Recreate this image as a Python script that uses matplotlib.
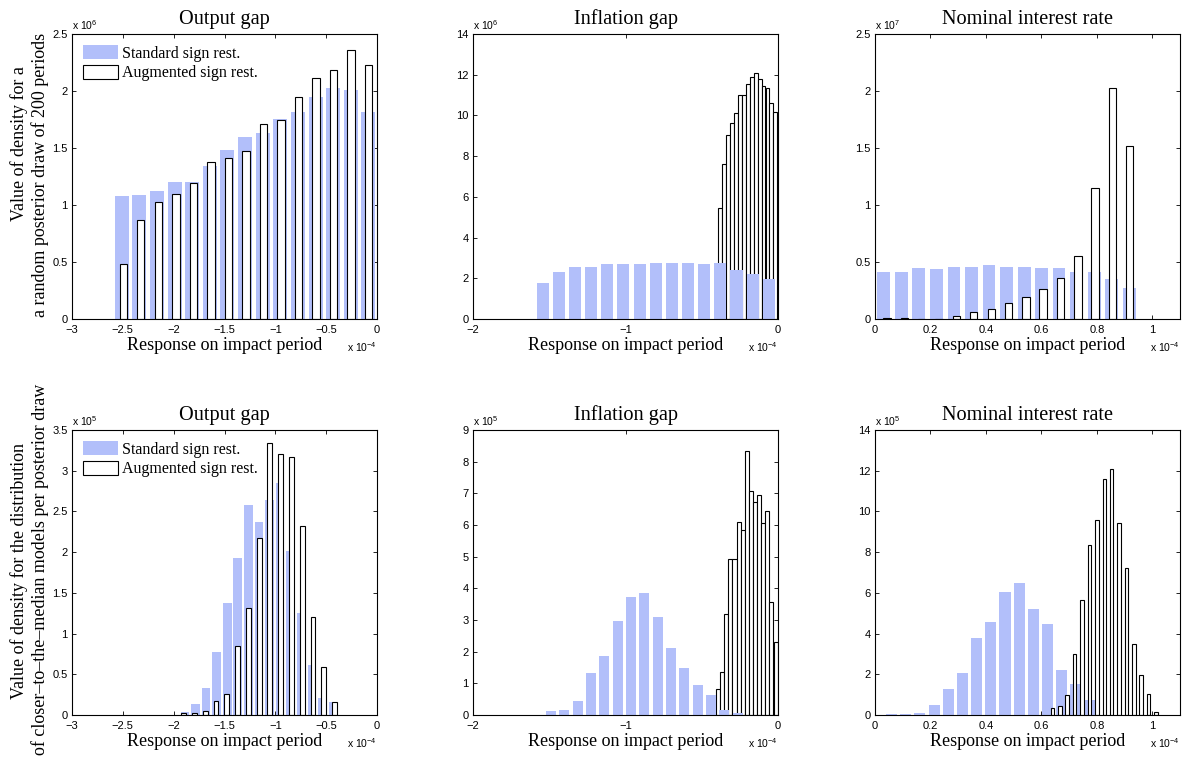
import matplotlib
matplotlib.use('Agg')
import matplotlib.pyplot as plt
from matplotlib.ticker import FuncFormatter

plt.rcParams['font.family'] = 'Liberation Serif'
plt.rcParams['mathtext.fontset'] = 'custom'
plt.rcParams['mathtext.rm'] = 'Liberation Sans'
plt.rcParams['mathtext.it'] = 'Liberation Sans:italic'

# x values in units of 1e-4, heights in units of the axis exponent
# top row: density for a random posterior draw of 200 periods
out1_std_x = [-2.511, -2.338, -2.164, -1.991, -1.818, -1.644, -1.471, -1.298, -1.124, -0.951, -0.778, -0.604, -0.431, -0.258, -0.085]
out1_std_y = [1.083, 1.085, 1.127, 1.200, 1.200, 1.338, 1.481, 1.595, 1.633, 1.756, 1.815, 1.947, 2.026, 2.011, 1.815]
out1_aug_x = [-2.495, -2.323, -2.150, -1.978, -1.806, -1.634, -1.461, -1.289, -1.117, -0.944, -0.772, -0.600, -0.428, -0.255, -0.083]
out1_aug_y = [0.480, 0.872, 1.025, 1.098, 1.191, 1.379, 1.414, 1.470, 1.712, 1.745, 1.947, 2.114, 2.187, 2.360, 2.228]

inf1_std_x = [-1.544, -1.438, -1.332, -1.226, -1.120, -1.014, -0.908, -0.802, -0.696, -0.590, -0.484, -0.378, -0.272, -0.166, -0.060]
inf1_std_y = [1.77, 2.33, 2.56, 2.55, 2.70, 2.72, 2.69, 2.75, 2.73, 2.73, 2.72, 2.76, 2.43, 2.23, 1.97]
inf1_aug_x = [-0.379, -0.353, -0.327, -0.302, -0.276, -0.250, -0.224, -0.198, -0.173, -0.147, -0.121, -0.095, -0.069, -0.044, -0.018]
inf1_aug_y = [5.45, 7.61, 9.04, 9.63, 10.12, 11.0, 11.0, 11.54, 11.89, 12.08, 11.79, 11.44, 11.35, 10.6, 10.17]

int1_std_x = [0.031, 0.095, 0.158, 0.221, 0.285, 0.348, 0.411, 0.474, 0.538, 0.601, 0.664, 0.728, 0.791, 0.854, 0.918]
int1_std_y = [0.416, 0.413, 0.448, 0.439, 0.460, 0.460, 0.474, 0.457, 0.457, 0.445, 0.451, 0.416, 0.410, 0.348, 0.272]
int1_aug_x = [0.043, 0.106, 0.168, 0.231, 0.293, 0.356, 0.419, 0.481, 0.544, 0.606, 0.669, 0.732, 0.794, 0.857, 0.919]
int1_aug_y = [0.010, 0.005, 0.002, 0.004, 0.026, 0.059, 0.088, 0.138, 0.196, 0.260, 0.360, 0.556, 1.153, 2.026, 1.516]

# bottom row: closer-to-the-median models per posterior draw
out2_std_x = [-1.889, -1.785, -1.681, -1.577, -1.473, -1.369, -1.265, -1.161, -1.057, -0.953, -0.849, -0.745, -0.641, -0.537, -0.433]
out2_std_y = [0.037, 0.136, 0.329, 0.773, 1.370, 1.925, 2.579, 2.365, 2.641, 2.847, 2.020, 1.250, 0.613, 0.210, 0.156]
out2_aug_x = [-1.902, -1.796, -1.690, -1.584, -1.478, -1.372, -1.266, -1.160, -1.054, -0.948, -0.842, -0.736, -0.630, -0.524, -0.418]
out2_aug_y = [0.020, 0.020, 0.053, 0.169, 0.263, 0.847, 1.316, 2.172, 3.340, 3.209, 3.172, 2.320, 1.201, 0.584, 0.165]

inf2_std_x = [-1.489, -1.402, -1.314, -1.227, -1.139, -1.052, -0.964, -0.877, -0.789, -0.702, -0.614, -0.527, -0.439, -0.352, -0.264]
inf2_std_y = [0.137, 0.148, 0.444, 1.332, 1.860, 2.980, 3.720, 3.860, 3.087, 2.114, 1.469, 0.940, 0.624, 0.159, 0.074]
inf2_aug_x = [-0.393, -0.366, -0.339, -0.312, -0.285, -0.258, -0.231, -0.204, -0.177, -0.150, -0.124, -0.097, -0.070, -0.043, -0.016]
inf2_aug_y = [0.82, 1.36, 3.20, 4.94, 4.94, 6.11, 5.83, 8.34, 7.07, 6.72, 6.94, 6.05, 6.43, 3.57, 2.30]

int2_std_x = [0.059, 0.110, 0.161, 0.213, 0.264, 0.315, 0.366, 0.417, 0.469, 0.520, 0.571, 0.622, 0.673, 0.725, 0.776]
int2_std_y = [0.05, 0.05, 0.08, 0.51, 1.30, 2.07, 3.80, 4.57, 6.05, 6.48, 5.20, 4.46, 2.22, 1.51, 0.72]
int2_aug_x = [0.640, 0.667, 0.693, 0.720, 0.747, 0.773, 0.800, 0.827, 0.854, 0.880, 0.907, 0.934, 0.960, 0.987, 1.014]
int2_aug_y = [0.36, 0.44, 0.97, 3.02, 5.65, 8.36, 9.56, 11.60, 12.06, 9.43, 7.23, 3.47, 1.96, 1.05, 0.15]

titles = ['Output gap', 'Inflation gap', 'Nominal interest rate']
blue = '#b2bffa'

fig = plt.figure(figsize=(11.85, 7.61), dpi=100)

lefts = [72, 473, 875]
tops = [34, 430]
W, H = 305, 285


def fmt(v, pos):
    return ('%g' % round(v, 6)).replace('-', '\u2212')


def panel(col, row, std_x, std_y, std_w, aug_x, aug_y, aug_w,
          xlim, xticks, ylim, yticks, yexp, blue_on_top=False, legend=False):
    ax = fig.add_axes([lefts[col] / 1185, 1 - (tops[row] + H) / 761, W / 1185, H / 761])
    zs, za = (3, 2) if blue_on_top else (2, 3)
    ax.bar(std_x, std_y, width=std_w, color=blue, edgecolor='none', zorder=zs,
           label='Standard sign rest.')
    ax.bar(aug_x, aug_y, width=aug_w, facecolor='white', edgecolor='black',
           linewidth=0.8, zorder=za, label='Augmented sign rest.')
    ax.set_xlim(xlim)
    ax.set_ylim(ylim)
    ax.set_xticks(xticks)
    ax.set_yticks(yticks)
    ax.xaxis.set_major_formatter(FuncFormatter(fmt))
    ax.yaxis.set_major_formatter(FuncFormatter(fmt))
    ax.tick_params(direction='in', top=True, right=True, length=3, width=0.6,
                   labelsize=8, labelfontfamily='Liberation Sans')
    ax.tick_params(axis='x', pad=4.5)
    ax.tick_params(axis='y', pad=3)
    for s in ax.spines.values():
        s.set_linewidth(0.8)
        s.set_zorder(5)
    ax.set_title(titles[col], fontsize=14.6, pad=7.5)
    ax.set_xlabel('Response on impact period', fontsize=13, labelpad=1.5)
    ax.annotate(r'x 10$^{%d}$' % yexp, xy=(0, 1), xycoords='axes fraction',
                xytext=(0, 3), textcoords='offset points', ha='left', va='baseline',
                fontsize=7.5, family='Liberation Sans')
    ax.annotate(r'x 10$^{-4}$', xy=(1, 0), xycoords='axes fraction',
                xytext=(0, -24), textcoords='offset points', ha='right', va='baseline',
                fontsize=7.5, family='Liberation Sans')
    if legend:
        ax.legend(loc='upper left', frameon=False, fontsize=11.5, handlelength=2.2,
                  handleheight=0.95, handletextpad=0.2, labelspacing=0.2,
                  borderaxespad=0.4, borderpad=0.3)
    return ax


panel(0, 0, out1_std_x, out1_std_y, 0.138, out1_aug_x, out1_aug_y, 0.072,
      (-3, 0), [-3, -2.5, -2, -1.5, -1, -0.5, 0], (0, 2.5), [0, 0.5, 1, 1.5, 2, 2.5], 6,
      legend=True)
panel(1, 0, inf1_std_x, inf1_std_y, 0.079, inf1_aug_x, inf1_aug_y, 0.0258,
      (-2, 0), [-2, -1, 0], (0, 14), [0, 2, 4, 6, 8, 10, 12, 14], 6, blue_on_top=True)
panel(2, 0, int1_std_x, int1_std_y, 0.046, int1_aug_x, int1_aug_y, 0.0265,
      (0, 1.1), [0, 0.2, 0.4, 0.6, 0.8, 1], (0, 2.5), [0, 0.5, 1, 1.5, 2, 2.5], 7)
panel(0, 1, out2_std_x, out2_std_y, 0.085, out2_aug_x, out2_aug_y, 0.048,
      (-3, 0), [-3, -2.5, -2, -1.5, -1, -0.5, 0], (0, 3.5), [0, 0.5, 1, 1.5, 2, 2.5, 3, 3.5], 5,
      legend=True)
panel(1, 1, inf2_std_x, inf2_std_y, 0.066, inf2_aug_x, inf2_aug_y, 0.0269,
      (-2, 0), [-2, -1, 0], (0, 9), list(range(10)), 5, blue_on_top=True)
panel(2, 1, int2_std_x, int2_std_y, 0.040, int2_aug_x, int2_aug_y, 0.0122,
      (0, 1.1), [0, 0.2, 0.4, 0.6, 0.8, 1], (0, 14), [0, 2, 4, 6, 8, 10, 12, 14], 5)

ylab = dict(rotation=90, ha='center', va='center', fontsize=13)
fig.text(19.5 / 1185, 1 - 144 / 761, 'Value of density for a', **ylab)
fig.text(40.5 / 1185, 1 - 175 / 761, 'a random posterior draw of 200 periods', **ylab)
fig.text(19.5 / 1185, 1 - 571 / 761, 'Value of density for the distribution', **ylab)
fig.text(40.5 / 1185, 1 - 569 / 761, 'of closer\u2013to\u2013the\u2013median models per posterior draw', **ylab)

fig.savefig('out.png', dpi=100)
